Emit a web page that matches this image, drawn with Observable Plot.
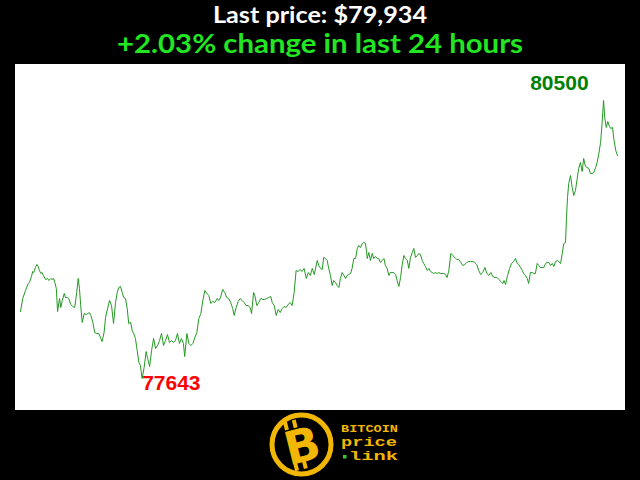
<!DOCTYPE html>
<html><head><meta charset="utf-8">
<script src="https://cdn.jsdelivr.net/npm/d3@7"></script>
<script src="https://cdn.jsdelivr.net/npm/@observablehq/plot@0.6"></script>
<style>
html,body{margin:0;padding:0;background:#000;width:640px;height:480px;overflow:hidden;}
#wrap{position:relative;width:640px;height:480px;}
#head{position:absolute;left:0;top:0;}
#chart{position:absolute;left:15px;top:64px;width:610px;height:346px;}
#logo{position:absolute;left:0;top:410px;}
</style></head><body>
<div id="wrap">
<svg id="head" width="640" height="64"></svg>
<div id="chart"></div>
<svg id="logo" width="640" height="70">
  <circle cx="301.5" cy="34.5" r="29.5" fill="#000" stroke="#f2b705" stroke-width="5"/>
  <g transform="rotate(-14 301 35)">
    <rect x="289" y="9" width="4" height="8" fill="#f2b705"/>
    <rect x="298" y="9" width="4" height="8" fill="#f2b705"/>
    <rect x="289" y="51" width="4" height="8" fill="#f2b705"/>
    <rect x="298" y="51" width="4" height="8" fill="#f2b705"/>
    <text x="302" y="52" text-anchor="middle" fill="#f2b705" font-family="DejaVu Sans" font-weight="bold" font-size="46">B</text>
  </g>
  <text x="341" y="22" fill="#f2b705" font-family="Liberation Mono" font-weight="bold" font-size="11" textLength="57" lengthAdjust="spacingAndGlyphs">BITCOIN</text>
  <text x="341" y="36" fill="#f2b705" font-family="Liberation Mono" font-weight="bold" font-size="12" textLength="56" lengthAdjust="spacingAndGlyphs">price</text>
  <rect x="343" y="45" width="3.5" height="3.5" fill="#2bd12b"/>
  <text x="349" y="50" fill="#f2b705" font-family="Liberation Mono" font-weight="bold" font-size="12" textLength="49" lengthAdjust="spacingAndGlyphs">link</text>
</svg>
</div>
<script>
const lastPrice = 79934;
const changePct = 2.03;
const hours = [0.00,0.09,0.20,0.31,0.36,0.44,0.49,0.53,0.60,0.66,0.71,0.76,0.82,0.87,0.92,1.01,1.09,1.14,1.22,1.27,1.33,1.38,1.44,1.49,1.57,1.62,1.68,1.76,1.81,1.89,1.94,2.02,2.10,2.18,2.26,2.32,2.37,2.42,2.48,2.56,2.64,2.72,2.77,2.83,2.91,2.98,3.07,3.15,3.23,3.28,3.36,3.42,3.50,3.58,3.66,3.74,3.82,3.89,3.95,4.02,4.09,4.15,4.22,4.29,4.35,4.43,4.49,4.55,4.62,4.69,4.76,4.82,4.89,4.97,5.05,5.11,5.19,5.27,5.35,5.43,5.51,5.59,5.67,5.75,5.83,5.91,5.99,6.07,6.15,6.23,6.31,6.39,6.47,6.55,6.60,6.69,6.77,6.85,6.93,7.01,7.09,7.17,7.25,7.33,7.41,7.49,7.57,7.65,7.73,7.81,7.91,7.97,8.04,8.13,8.21,8.29,8.37,8.45,8.53,8.59,8.67,8.75,8.83,8.91,8.99,9.07,9.15,9.23,9.29,9.37,9.42,9.50,9.58,9.66,9.74,9.82,9.90,9.98,10.06,10.12,10.20,10.28,10.36,10.44,10.52,10.60,10.68,10.76,10.84,10.92,11.00,11.08,11.16,11.24,11.32,11.40,11.49,11.57,11.65,11.73,11.81,11.93,11.99,12.06,12.13,12.19,12.26,12.33,12.39,12.46,12.53,12.59,12.66,12.73,12.80,12.86,12.93,13.00,13.07,13.13,13.20,13.27,13.33,13.40,13.47,13.54,13.60,13.67,13.74,13.80,13.87,13.94,14.00,14.07,14.14,14.20,14.27,14.34,14.40,14.47,14.54,14.61,14.67,14.74,14.81,14.87,14.94,15.01,15.08,15.14,15.21,15.28,15.34,15.41,15.48,15.55,15.61,15.68,15.75,15.81,15.88,15.95,16.01,16.08,16.15,16.21,16.28,16.35,16.42,16.48,16.55,16.61,16.68,16.75,16.82,16.88,16.95,17.02,17.09,17.15,17.22,17.30,17.38,17.46,17.54,17.62,17.70,17.78,17.86,17.94,18.02,18.10,18.18,18.26,18.34,18.42,18.50,18.58,18.67,18.75,18.83,18.91,18.99,19.07,19.15,19.23,19.31,19.39,19.44,19.50,19.58,19.66,19.74,19.82,19.90,19.97,20.03,20.10,20.17,20.23,20.30,20.37,20.43,20.50,20.57,20.64,20.70,20.77,20.84,20.90,20.97,21.04,21.11,21.17,21.24,21.31,21.38,21.44,21.51,21.58,21.64,21.71,21.78,21.84,21.91,21.95,21.99,22.04,22.11,22.18,22.24,22.31,22.38,22.44,22.51,22.58,22.64,22.71,22.78,22.85,22.91,22.98,23.05,23.12,23.18,23.25,23.32,23.38,23.44,23.49,23.55,23.61,23.66,23.73,23.80,23.86,23.93,24.00];
const prices = [78332,78465,78547,78619,78630,78691,78743,78732,78784,78815,78794,78753,78722,78732,78702,78660,78671,78650,78671,78660,78671,78630,78568,78332,78465,78373,78445,78517,78475,78475,78465,78404,78383,78373,78527,78671,78568,78393,78219,78311,78301,78311,78321,78290,78219,78116,78105,78105,78054,78023,78116,78270,78362,78445,78393,78208,78424,78527,78578,78589,78527,78475,78465,78362,78208,78219,78136,78105,78054,77931,77807,77777,77643,77756,77920,77849,77766,77931,78054,77951,77982,78034,78105,77982,78034,78095,78013,78034,78013,78034,78105,78003,78054,78003,77869,78105,78003,77982,78003,78064,78116,78260,78311,78445,78547,78517,78496,78414,78434,78424,78465,78445,78475,78558,78527,78475,78465,78424,78362,78291,78373,78434,78465,78445,78424,78393,78393,78373,78311,78527,78496,78393,78424,78465,78455,78455,78465,78475,78486,78424,78393,78291,78352,78321,78362,78383,78373,78404,78424,78393,78527,78753,78743,78763,78743,78774,78671,78732,78702,78774,78712,78856,78804,78774,78763,78887,78876,78856,78774,78702,78599,78650,78630,78599,78578,78671,78732,78702,78671,78702,78712,78722,78774,78876,78876,78979,79010,78989,79030,79041,79030,78876,78938,78856,78928,78876,78897,78876,78876,78835,78856,78876,78804,78774,78702,78732,78732,78732,78712,78650,78589,78681,78804,78907,78876,78856,78774,78887,78938,78979,78887,78907,78928,78917,78856,78825,78794,78753,78774,78743,78732,78722,78732,78722,78732,78722,78722,78722,78712,78681,78753,78928,78907,78887,78866,78866,78835,78804,78815,78835,78845,78845,78845,78835,78815,78753,78712,78732,78784,78722,78702,78732,78691,78681,78681,78660,78640,78619,78650,78609,78702,78774,78825,78845,78876,78825,78815,78784,78753,78722,78702,78671,78619,78732,78732,78722,78722,78825,78804,78784,78784,78784,78825,78835,78835,78804,78825,78794,78845,78856,78845,78825,78928,79030,79041,79298,79503,79647,79729,79606,79524,79575,79698,79801,79863,79770,79904,79822,79811,79801,79750,79750,79760,79811,79863,79955,80068,80264,80500,80315,80223,80284,80243,80212,80223,80089,79986,79934];

const head = d3.select("#head");
head.append("text").attr("x",320).attr("y",23).attr("text-anchor","middle")
  .attr("fill","#ffffff").attr("font-family","Lato").attr("font-weight","bold").attr("font-size",22)
  .attr("textLength",214).attr("lengthAdjust","spacingAndGlyphs")
  .text("Last price: $" + d3.format(",")(lastPrice));
head.append("text").attr("x",320).attr("y",53).attr("text-anchor","middle")
  .attr("fill","#22e622").attr("font-family","Lato").attr("font-weight","bold").attr("font-size",26)
  .attr("textLength",406).attr("lengthAdjust","spacingAndGlyphs")
  .text((changePct >= 0 ? "+" : "") + changePct.toFixed(2) + "% change in last 24 hours");

const data = hours.map((h, i) => ({h, p: prices[i]}));
const iMax = d3.maxIndex(prices), iMin = d3.minIndex(prices);

const chart = Plot.plot({
  width: 610, height: 346,
  marginLeft: 5, marginRight: 8, marginTop: 36, marginBottom: 32,
  x: {domain: [0, 24], axis: null},
  y: {domain: d3.extent(prices), axis: null},
  style: {background: "#ffffff", overflow: "visible"},
  marks: [
    Plot.line(data, {x: "h", y: "p", stroke: "#229922", strokeWidth: 1}),
    Plot.text([data[iMax]], {x: "h", y: "p", text: d => String(d.p), textAnchor: "end", dx: -15, dy: -17,
      fill: "#008000", fontSize: 21, fontWeight: "bold", fontFamily: "Liberation Sans"}),
    Plot.text([data[iMin]], {x: "h", y: "p", text: d => String(d.p), textAnchor: "start", dx: 0, dy: 5,
      fill: "#ff0000", fontSize: 21, fontWeight: "bold", fontFamily: "Liberation Sans"})
  ]
});
document.getElementById("chart").appendChild(chart);
</script>
</body></html>
